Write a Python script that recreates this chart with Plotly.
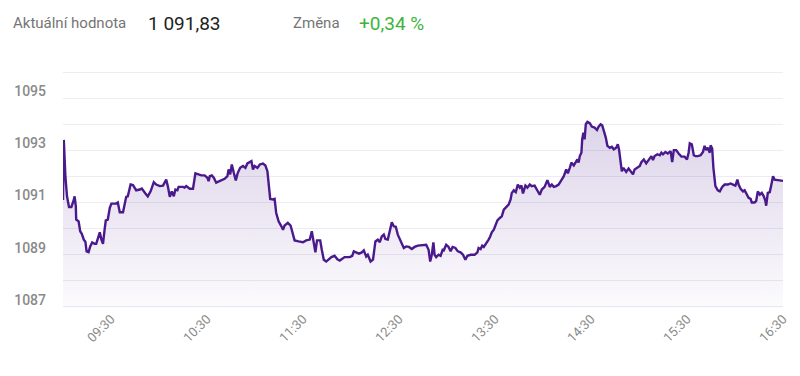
import plotly.graph_objects as go

# ---- data ----
times = [
    "09:00:00", "09:00:30", "09:01:30", "09:02:30", "09:03:45", "09:05:15", "09:06:45", "09:07:15",
    "09:08:00", "09:08:15", "09:09:45", "09:10:45", "09:11:45", "09:13:00", "09:14:00", "09:14:45",
    "09:16:00", "09:17:00", "09:18:15", "09:19:45", "09:20:45", "09:21:45", "09:23:00", "09:24:00",
    "09:25:00", "09:26:00", "09:26:45", "09:28:00", "09:29:15", "09:30:15", "09:33:15", "09:34:15",
    "09:35:30", "09:37:30", "09:38:30", "09:39:30", "09:40:30", "09:42:15", "09:43:45", "09:45:45",
    "09:48:00", "09:49:15", "09:51:30", "09:53:00", "09:54:45", "09:56:45", "09:58:15", "10:00:30",
    "10:02:30", "10:04:30", "10:05:30", "10:06:45", "10:08:00", "10:09:15", "10:10:15", "10:11:30",
    "10:12:15", "10:15:00", "10:16:00", "10:17:00", "10:19:15", "10:21:15", "10:22:45", "10:24:15",
    "10:26:30", "10:28:30", "10:30:15", "10:31:00", "10:31:45", "10:33:00", "10:34:15", "10:35:45",
    "10:38:00", "10:39:30", "10:41:00", "10:42:45", "10:43:30", "10:44:30", "10:45:30", "10:46:45",
    "10:48:00", "10:49:15", "10:50:45", "10:52:30", "10:54:00", "10:55:15", "10:56:45", "10:57:45",
    "10:58:45", "10:59:45", "11:01:30", "11:03:00", "11:05:00", "11:06:30", "11:07:45", "11:08:30",
    "11:09:30", "11:11:15", "11:12:15", "11:13:15", "11:14:45", "11:16:30", "11:17:30", "11:18:30",
    "11:20:30", "11:22:15", "11:23:45", "11:24:45", "11:27:15", "11:30:00", "11:32:00", "11:34:15",
    "11:35:30", "11:36:45", "11:37:45", "11:38:45", "11:40:45", "11:41:45", "11:43:00", "11:44:30",
    "11:46:00", "11:47:45", "11:49:45", "11:51:30", "11:53:00", "11:54:15", "11:56:00", "11:59:15",
    "12:00:45", "12:01:45", "12:03:15", "12:05:00", "12:06:45", "12:08:00", "12:09:30", "12:10:30",
    "12:12:15", "12:13:45", "12:15:15", "12:16:45", "12:18:00", "12:19:15", "12:20:30", "12:21:30",
    "12:23:00", "12:24:30", "12:25:30", "12:26:45", "12:28:00", "12:29:15", "12:30:30", "12:31:45",
    "12:33:00", "12:34:30", "12:36:15", "12:38:00", "12:39:45", "12:41:45", "12:45:00", "12:47:00",
    "12:48:30", "12:49:30", "12:50:30", "12:51:30", "12:52:15", "12:53:15", "12:54:45", "12:56:00",
    "12:57:15", "12:58:00", "12:59:30", "13:01:00", "13:02:15", "13:03:30", "13:05:15", "13:06:45",
    "13:08:30", "13:10:00", "13:11:30", "13:12:45", "13:14:45", "13:17:15", "13:19:00", "13:19:45",
    "13:21:00", "13:22:00", "13:23:00", "13:24:30", "13:26:00", "13:27:00", "13:28:00", "13:29:15",
    "13:30:30", "13:31:30", "13:33:00", "13:34:15", "13:35:30", "13:37:00", "13:38:30", "13:39:45",
    "13:40:30", "13:41:45", "13:43:00", "13:44:15", "13:45:30", "13:46:30", "13:47:30", "13:49:00",
    "13:50:15", "13:51:45", "13:53:00", "13:54:45", "13:56:30", "13:58:00", "13:59:15", "14:01:00",
    "14:02:45", "14:04:15", "14:05:30", "14:06:45", "14:08:15", "14:09:45", "14:11:30", "14:13:00",
    "14:14:30", "14:15:30", "14:16:45", "14:17:45", "14:19:15", "14:20:30", "14:21:30", "14:22:15",
    "14:23:00", "14:24:00", "14:24:30", "14:25:15", "14:26:00", "14:26:45", "14:27:45", "14:29:15",
    "14:30:30", "14:32:15", "14:33:45", "14:34:45", "14:36:00", "14:37:00", "14:38:00", "14:39:15",
    "14:40:15", "14:41:45", "14:43:00", "14:44:15", "14:45:45", "14:46:45", "14:47:30", "14:48:30",
    "14:49:15", "14:50:15", "14:51:00", "14:52:00", "14:53:30", "14:54:45", "14:56:15", "14:57:15",
    "14:59:00", "15:00:30", "15:01:30", "15:03:00", "15:04:30", "15:06:00", "15:07:45", "15:08:45",
    "15:09:45", "15:11:30", "15:13:00", "15:14:00", "15:15:00", "15:16:30", "15:18:00", "15:19:45",
    "15:20:45", "15:21:45", "15:23:15", "15:24:45", "15:26:30", "15:28:30", "15:30:00", "15:31:00",
    "15:31:45", "15:33:00", "15:34:15", "15:35:15", "15:36:45", "15:38:30", "15:40:00", "15:41:00",
    "15:42:00", "15:43:00", "15:44:15", "15:44:45", "15:45:45", "15:46:30", "15:47:45", "15:49:15",
    "15:50:30", "15:52:00", "15:53:30", "15:55:30", "15:57:15", "15:58:45", "16:00:15", "16:01:30",
    "16:02:15", "16:03:30", "16:05:00", "16:06:00", "16:07:15", "16:08:30", "16:09:45", "16:10:30",
    "16:12:15", "16:13:15", "16:14:15", "16:15:30", "16:16:45", "16:18:00", "16:19:00", "16:19:30",
    "16:20:30", "16:21:45", "16:22:45", "16:23:45", "16:24:45", "16:26:45", "16:30:00",
]
values = [
    1091.10, 1093.40, 1092.00, 1091.24, 1090.83, 1090.83, 1091.10, 1091.24,
    1090.86, 1090.35, 1090.28, 1089.90, 1089.80, 1089.58, 1089.50, 1089.13,
    1089.10, 1089.32, 1089.47, 1089.42, 1089.42, 1089.64, 1089.86, 1089.58,
    1089.42, 1089.96, 1090.32, 1090.35, 1090.80, 1090.96, 1090.96, 1091.00,
    1090.63, 1090.63, 1091.00, 1091.22, 1091.24, 1091.69, 1091.67, 1091.47,
    1091.50, 1091.54, 1091.35, 1091.24, 1091.43, 1091.78, 1091.69, 1091.63,
    1091.65, 1091.88, 1091.63, 1091.22, 1091.43, 1091.24, 1091.50, 1091.47,
    1091.60, 1091.60, 1091.57, 1091.63, 1091.53, 1091.53, 1092.12, 1092.08,
    1092.04, 1092.04, 1091.95, 1091.82, 1092.01, 1092.04, 1091.95, 1091.76,
    1091.82, 1091.88, 1091.91, 1092.01, 1092.27, 1092.08, 1092.46, 1092.14,
    1091.85, 1092.14, 1092.33, 1092.40, 1092.33, 1092.50, 1092.55, 1092.59,
    1092.27, 1092.40, 1092.33, 1092.46, 1092.49, 1092.42, 1092.20, 1091.76,
    1091.14, 1091.12, 1091.14, 1090.60, 1090.28, 1090.09, 1089.96, 1090.12,
    1090.22, 1090.12, 1089.83, 1089.55, 1089.51, 1089.48, 1089.55, 1089.58,
    1089.90, 1089.38, 1089.09, 1089.55, 1089.55, 1089.19, 1088.81, 1088.74,
    1088.83, 1088.91, 1088.96, 1088.83, 1088.78, 1088.83, 1088.91, 1088.91,
    1088.96, 1089.13, 1089.09, 1089.04, 1089.09, 1089.17, 1088.93, 1089.00,
    1088.74, 1088.81, 1089.51, 1089.58, 1089.48, 1089.70, 1089.77, 1089.60,
    1089.58, 1089.96, 1090.24, 1090.09, 1090.07, 1089.77, 1089.58, 1089.38,
    1089.26, 1089.32, 1089.30, 1089.22, 1089.30, 1089.35, 1089.38, 1089.38,
    1089.19, 1088.74, 1089.00, 1089.47, 1089.00, 1088.91, 1089.00, 1088.96,
    1089.19, 1089.17, 1089.38, 1089.30, 1089.13, 1089.30, 1089.26, 1089.13,
    1089.09, 1089.00, 1088.81, 1088.96, 1089.00, 1089.00, 1089.09, 1089.26,
    1089.22, 1089.35, 1089.30, 1089.42, 1089.58, 1089.70, 1089.86, 1089.96,
    1090.15, 1090.32, 1090.41, 1090.47, 1090.73, 1090.83, 1090.92, 1091.12,
    1091.37, 1091.47, 1091.40, 1091.69, 1091.57, 1091.65, 1091.35, 1091.65,
    1091.57, 1091.69, 1091.63, 1091.65, 1091.43, 1091.30, 1091.50, 1091.60,
    1091.86, 1091.60, 1091.69, 1091.60, 1091.63, 1091.69, 1091.86, 1092.01,
    1092.27, 1092.12, 1092.33, 1092.53, 1092.42, 1092.53, 1092.65, 1092.53,
    1092.78, 1092.91, 1093.42, 1093.68, 1093.42, 1094.00, 1094.09, 1094.04,
    1093.91, 1093.87, 1093.78, 1093.91, 1094.00, 1093.96, 1093.78, 1093.49,
    1093.17, 1093.10, 1093.14, 1093.04, 1093.10, 1093.23, 1093.04, 1092.53,
    1092.20, 1092.33, 1092.27, 1092.17, 1092.30, 1092.20, 1092.08, 1092.27,
    1092.33, 1092.40, 1092.55, 1092.65, 1092.50, 1092.65, 1092.78, 1092.63,
    1092.78, 1092.85, 1092.81, 1092.91, 1092.85, 1092.94, 1092.88, 1092.97,
    1092.55, 1093.01, 1093.01, 1092.88, 1092.76, 1092.76, 1092.65, 1092.91,
    1093.27, 1093.23, 1092.81, 1092.78, 1092.78, 1092.81, 1092.94, 1093.17,
    1093.01, 1093.10, 1092.91, 1093.19, 1093.07, 1092.33, 1091.63, 1091.47,
    1091.43, 1091.60, 1091.69, 1091.69, 1091.73, 1091.69, 1091.65, 1091.88,
    1091.69, 1091.53, 1091.43, 1091.47, 1091.35, 1091.18, 1091.14, 1091.00,
    1091.00, 1091.06, 1091.43, 1091.30, 1091.37, 1091.24, 1091.06, 1090.88,
    1091.37, 1091.40, 1091.69, 1092.01, 1091.88, 1091.86, 1091.83,
]

x_tick_labels = ["09:30", "10:30", "11:30", "12:30", "13:30", "14:30", "15:30", "16:30"]
y_grid_values = [1087, 1088, 1089, 1090, 1091, 1092, 1093, 1094, 1095, 1096]
y_tick_labels = ["1087", "", "1089", "", "1091", "", "1093", "", "1095", ""]

current_label = "Aktuální hodnota"
current_value = "1 091,83"
change_label = "Změna"
change_value = "+0,34 %"

DAY = "2024-01-02 "
xs = [DAY + t for t in times]

LINE = "#4a1a8c"
GRID = "#ececf2"
FONT = "Roboto"

fig = go.Figure()
fig.add_trace(go.Scatter(
    x=xs, y=values, mode="lines",
    line=dict(color=LINE, width=2.4),
    fill="tozeroy",
    fillgradient=dict(
        type="vertical",
        colorscale=[[0, "rgba(74,26,140,0.02)"], [1, "rgba(74,26,140,0.19)"]],
        start=1087, stop=1094.2,
    ),
    hoverinfo="skip",
    showlegend=False,
))

W, H = 800, 376
ml, mr, mt, mb = 63, 17, 71, 68
pw, ph = W - ml - mr, H - mt - mb

def px(xp):
    return (xp - ml) / pw

def py(yp):
    return (H - mb - yp) / ph

fig.update_layout(
    width=W, height=H,
    margin=dict(l=ml, r=mr, t=mt, b=mb, pad=0, autoexpand=False),
    paper_bgcolor="white", plot_bgcolor="white",
    font=dict(family=FONT, color="#8a8a8a"),
    xaxis=dict(
        type="date",
        range=[DAY + "09:00:00", DAY + "16:30:00"],
        tickvals=[DAY + t + ":00" for t in x_tick_labels],
        ticktext=x_tick_labels,
        tickangle=-45,
        tickfont=dict(size=13, color="#8a8a8a", family=FONT),
        showgrid=False, zeroline=False,
        showline=False, ticks="",
        automargin=False,
        fixedrange=True,
    ),
    yaxis=dict(
        range=[1086.96, 1096.04],
        tickvals=y_grid_values,
        ticktext=y_tick_labels,
        ticklabelposition="outside",
        ticklabelshift=-7,
        ticklabelstandoff=16,
        tickfont=dict(size=14, color="#8a8a8a", family=FONT, weight=500),
        showgrid=True, gridcolor=GRID, gridwidth=1,
        zeroline=False, showline=False, ticks="",
        automargin=False,
        fixedrange=True,
    ),
    annotations=[
        dict(text=current_label, x=px(11), y=py(23), xref="paper", yref="paper",
             xanchor="left", yanchor="middle", showarrow=False,
             font=dict(size=15, color="#757575", family=FONT)),
        dict(text=current_value, x=px(146), y=py(23), xref="paper", yref="paper",
             xanchor="left", yanchor="middle", showarrow=False,
             font=dict(size=19, color="#222222", family=FONT)),
        dict(text=change_label, x=px(291), y=py(23), xref="paper", yref="paper",
             xanchor="left", yanchor="middle", showarrow=False,
             font=dict(size=15, color="#757575", family=FONT)),
        dict(text=change_value, x=px(357), y=py(23), xref="paper", yref="paper",
             xanchor="left", yanchor="middle", showarrow=False,
             font=dict(size=19, color="#3cb43c", family=FONT)),
    ],
)

fig.write_html("out.html", config={"displayModeBar": False},
               post_script="document.body.style.margin='0';")
